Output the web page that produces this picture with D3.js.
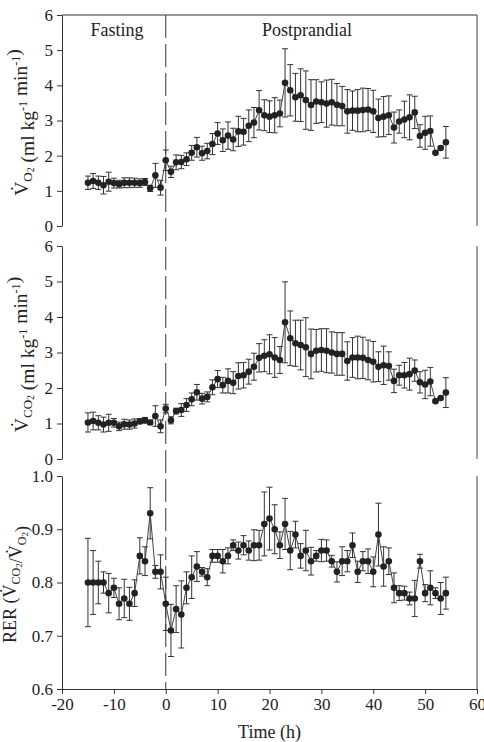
<!DOCTYPE html>
<html>
<head>
<meta charset="utf-8">
<script src="https://cdn.jsdelivr.net/npm/d3@7"></script>
<style>
  body { margin: 0; background: #fff; }
  text { font-family: "Liberation Serif", "Times New Roman", serif; fill: #222; }
</style>
</head>
<body>
<script>
var width = 484;
var height = 742;

// hours relative to the meal
var hours = [-15,-14,-13,-12,-11,-10,-9,-8,-7,-6,-5,-4,-3,-2,-1,
  0,1,2,3,4,5,6,7,8,9,10,11,12,13,14,15,16,17,18,19,20,21,22,
  23,24,25,26,27,28,29,30,31,32,33,34,35,36,37,38,39,40,41,42,43,44,45,46,47,48,49,50,51,52,53,54];

var vo2 = [1.23,1.28,1.23,1.16,1.26,1.22,1.19,1.23,1.23,1.23,1.22,1.25,1.07,1.44,1.09,
  1.87,1.54,1.81,1.82,1.90,2.08,2.24,2.07,2.13,2.33,2.63,2.44,2.57,2.46,2.69,2.68,2.85,2.94,3.29,3.15,3.11,3.15,3.20,
  4.07,3.86,3.66,3.72,3.58,3.44,3.54,3.52,3.48,3.52,3.45,3.41,3.26,3.28,3.28,3.30,3.31,3.26,3.07,3.11,3.15,2.80,2.97,3.03,3.09,3.23,2.56,2.65,2.70,2.08,2.22,2.38];
var vo2Err = [0.19,0.21,0.19,0.25,0.27,0.14,0.11,0.14,0.14,0.13,0.12,0.10,0.09,0.34,0.21,
  0.29,0.16,0.21,0.19,0.18,0.21,0.28,0.20,0.22,0.30,0.31,0.32,0.39,0.32,0.43,0.38,0.45,0.43,0.56,0.44,0.45,0.50,0.38,
  0.97,0.73,0.68,0.75,0.83,0.72,0.62,0.58,0.67,0.65,0.60,0.56,0.62,0.56,0.60,0.62,0.60,0.60,0.54,0.57,0.55,0.44,0.33,0.52,0.64,0.46,0.32,0.47,0.43,0.03,0.03,0.45];

var vco2 = [1.03,1.07,1.02,0.97,1.02,1.02,0.92,0.98,0.97,1.00,1.06,1.09,1.03,1.21,0.92,
  1.42,1.09,1.35,1.38,1.52,1.68,1.88,1.70,1.75,2.02,2.25,2.08,2.20,2.15,2.34,2.36,2.46,2.60,2.85,2.91,2.95,2.86,2.79,
  3.85,3.40,3.26,3.21,3.15,2.96,3.05,3.07,3.05,3.00,2.96,2.96,2.76,2.86,2.86,2.85,2.79,2.74,2.60,2.64,2.62,2.20,2.36,2.36,2.39,2.49,2.16,2.10,2.18,1.63,1.72,1.87];
var vco2Err = [0.27,0.25,0.20,0.21,0.24,0.12,0.12,0.14,0.13,0.13,0.07,0.08,0.06,0.29,0.18,
  0.12,0.10,0.08,0.18,0.18,0.18,0.22,0.15,0.14,0.21,0.24,0.22,0.34,0.31,0.37,0.36,0.35,0.38,0.40,0.45,0.55,0.56,0.38,
  1.14,0.77,0.65,0.70,0.83,0.70,0.60,0.60,0.62,0.58,0.60,0.60,0.54,0.56,0.60,0.58,0.56,0.57,0.42,0.54,0.40,0.33,0.28,0.36,0.45,0.30,0.30,0.40,0.40,0.03,0.03,0.42];

var rer = [0.80,0.80,0.80,0.80,0.78,0.79,0.76,0.77,0.76,0.78,0.85,0.84,0.93,0.82,0.82,
  0.76,0.71,0.75,0.74,0.79,0.81,0.83,0.82,0.81,0.85,0.85,0.84,0.85,0.87,0.86,0.87,0.86,0.87,0.87,0.91,0.92,0.90,0.87,
  0.91,0.86,0.89,0.85,0.86,0.84,0.85,0.86,0.86,0.84,0.82,0.84,0.84,0.87,0.82,0.84,0.84,0.82,0.89,0.83,0.84,0.79,0.78,0.78,0.77,0.77,0.84,0.78,0.79,0.78,0.77,0.78];
var rerErr = [0.083,0.06,0.04,0.02,0.037,0.018,0.03,0.036,0.031,0.025,0.034,0.027,0.048,0.012,0.032,
  0.05,0.049,0.044,0.063,0.03,0.04,0.028,0.008,0.016,0.012,0.012,0.022,0.015,0.01,0.016,0.018,0.018,0.029,0.028,0.06,0.059,0.046,0.025,
  0.048,0.036,0.025,0.023,0.038,0.026,0.01,0.021,0.02,0.011,0.019,0.027,0.02,0.023,0.02,0.018,0.023,0.028,0.059,0.037,0.025,0.028,0.014,0.013,0.012,0.034,0.013,0.016,0.032,0.01,0.03,0.03];

var xTicks = [-20,-10,0,10,20,30,40,50,60];
var gasTicks = [0,1,2,3,4,5,6];
var rerTicks = [0.6,0.7,0.8,0.9,1.0];

var x = d3.scaleLinear().domain([-20, 60]).range([62, 477]);

var svg = d3.select("body")
            .append("svg")
            .attr("width", width)
            .attr("height", height);

var panels = [
  { values: vo2, err: vo2Err, domain: [0, 6], range: [226, 15], ticks: gasTicks, fmt: d3.format("d"), label: "vo2", topLine: true },
  { values: vco2, err: vco2Err, domain: [0, 6], range: [459, 246], ticks: gasTicks, fmt: d3.format("d"), label: "vco2" },
  { values: rer, err: rerErr, domain: [0.6, 1.0], range: [689, 476], ticks: rerTicks, fmt: d3.format(".1f"), label: "rer", xAxis: true }
];

// dashed line at the meal
svg.append("line")
   .attr("x1", x(0)).attr("x2", x(0))
   .attr("y1", 15).attr("y2", 689)
   .attr("stroke", "#333")
   .attr("stroke-width", 1)
   .attr("stroke-dasharray", "23,6");

panels.forEach(function(p) {
  var y = d3.scaleLinear().domain(p.domain).range(p.range);
  var g = svg.append("g");

  var yAxis = g.append("g")
     .attr("transform", "translate(" + x(-20) + ",0)")
     .call(d3.axisLeft(y).tickValues(p.ticks).tickFormat(p.fmt).tickSize(5).tickSizeOuter(0).tickPadding(4));
  yAxis.selectAll("text").style("font-size", "17px").attr("fill", "#222").style("font-family", "Liberation Serif");
  yAxis.selectAll("line, path").attr("stroke", "#333");

  // right border
  g.append("line")
   .attr("x1", x(60)).attr("x2", x(60))
   .attr("y1", y.range()[1]).attr("y2", y.range()[0])
   .attr("stroke", "#444");

  if (p.topLine) {
    g.append("line")
     .attr("x1", x(-20)).attr("x2", x(60))
     .attr("y1", y.range()[1]).attr("y2", y.range()[1])
     .attr("stroke", "#333");
  }

  if (p.xAxis) {
    var xAxis = g.append("g")
       .attr("transform", "translate(0," + y.range()[0] + ")")
       .call(d3.axisBottom(x).tickValues(xTicks).tickFormat(function(d) { return String(d); }).tickSize(5).tickSizeOuter(0).tickPadding(4));
    xAxis.selectAll("text").style("font-size", "17px").attr("fill", "#222").style("font-family", "Liberation Serif");
    xAxis.selectAll("line, path").attr("stroke", "#333");
  }

  var pts = hours.map(function(h, i) { return { t: h, v: p.values[i], e: p.err[i] }; });

  // error bars
  var eb = g.append("g").attr("stroke", "#333").attr("stroke-width", 1).attr("fill", "none");
  pts.forEach(function(d) {
    var cx = x(d.t);
    eb.append("line").attr("x1", cx).attr("x2", cx).attr("y1", y(d.v - d.e)).attr("y2", y(d.v + d.e));
    eb.append("line").attr("x1", cx - 3).attr("x2", cx + 3).attr("y1", y(d.v + d.e)).attr("y2", y(d.v + d.e));
    eb.append("line").attr("x1", cx - 3).attr("x2", cx + 3).attr("y1", y(d.v - d.e)).attr("y2", y(d.v - d.e));
  });

  var line = d3.line().x(function(d) { return x(d.t); }).y(function(d) { return y(d.v); });
  g.append("path")
   .datum(pts)
   .attr("d", line)
   .attr("fill", "none")
   .attr("stroke", "#444")
   .attr("stroke-width", 1);

  g.selectAll("circle")
   .data(pts)
   .enter()
   .append("circle")
   .attr("cx", function(d) { return x(d.t); })
   .attr("cy", function(d) { return y(d.v); })
   .attr("r", 3.3)
   .attr("fill", "#222");

  // y axis title
  var cy = (y.range()[0] + y.range()[1]) / 2;
  var isRer = p.label == "rer";
  var fs = isRer ? 18 : 19.5;
  var lx = isRer ? 16 : 28;
  var t = g.append("text")
     .attr("transform", "translate(" + lx + "," + (cy + 2) + ") rotate(-90)")
     .attr("text-anchor", "middle")
     .style("font-size", fs + "px");

  function vdot() { t.append("tspan").text("V\u0307"); }
  function sub(s1, s2) {
    t.append("tspan").attr("dy", 4).style("font-size", (fs * 0.67) + "px").text(s1);
    t.append("tspan").attr("dy", 2).style("font-size", (fs * 0.5) + "px").text(s2);
    t.append("tspan").attr("dy", -6).text("");
  }
  function sup(s) {
    t.append("tspan").attr("dy", -7).style("font-size", (fs * 0.62) + "px").text(s);
    t.append("tspan").attr("dy", 7).text("");
  }

  if (isRer) {
    t.append("tspan").text("RER (");
    vdot(); sub("CO", "2");
    t.append("tspan").text("/");
    vdot(); sub("O", "2");
    t.append("tspan").text(")");
  } else {
    vdot();
    if (p.label == "vo2") sub("O", "2"); else sub("CO", "2");
    t.append("tspan").text(" (ml kg");
    sup("-1");
    t.append("tspan").text(" min");
    sup("-1");
    t.append("tspan").text(")");
  }
});

// phase labels
svg.append("text").attr("x", 117).attr("y", 36).attr("text-anchor", "middle").style("font-size", "18px").text("Fasting");
svg.append("text").attr("x", 307).attr("y", 36).attr("text-anchor", "middle").style("font-size", "18px").text("Postprandial");

svg.append("text")
   .attr("x", (x(-20) + x(60)) / 2)
   .attr("y", 738)
   .attr("text-anchor", "middle")
   .style("font-size", "18px")
   .text("Time (h)");
</script>
</body>
</html>
